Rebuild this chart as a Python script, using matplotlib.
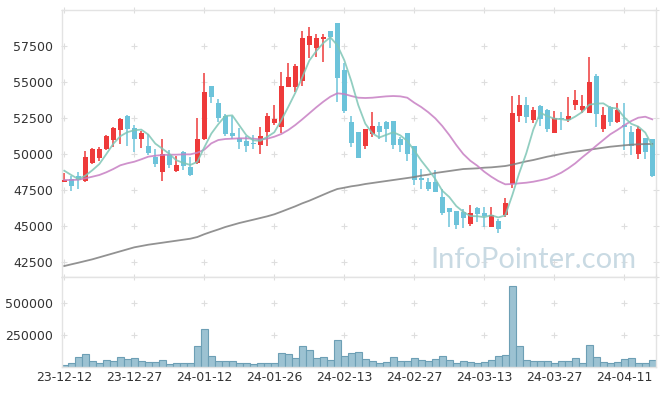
import matplotlib
matplotlib.use("Agg")
import matplotlib.pyplot as plt
import numpy as np

# ---------------- data ----------------
tick_labels = ['23-12-12', '23-12-27', '24-01-12', '24-01-26', '24-02-13',
               '24-02-27', '24-03-13', '24-03-27', '24-04-11']

opens = [48050, 48250, 48470, 48150, 49350, 49750, 50370, 50970, 51670, 52640,
         51780, 51020, 50560, 49810, 48730, 49950, 48840, 50120, 49080, 49350,
         51060, 54720, 53540, 52660, 51480, 51110, 50900, 50740, 50650, 51510,
         52170, 51900, 54670, 54670, 55090, 57590, 57380, 57990, 58540, 59100,
         55830, 52220, 51530, 50580, 51410, 51940, 52220, 52290, 51040, 51460,
         50560, 48350, 48060, 48060, 47010, 46270, 46040, 45970, 45160, 46250,
         45880, 44950, 45350, 45760, 47900, 52660, 53400, 52380, 53330, 53060,
         51480, 52500, 52380, 53380, 53060, 52850, 55440, 51740, 53240, 52240,
         52010, 51530, 49980, 51110, 51020]
highs = [48700, 48500, 48770, 50200, 50420, 50480, 51320, 51900, 52480, 52710,
         52000, 51600, 51400, 50330, 51020, 50270, 49880, 50230, 49810, 52500,
         55600, 54720, 53800, 52800, 52650, 51780, 51270, 51320, 51900, 52870,
         53400, 55670, 56300, 56230, 58560, 58800, 58310, 58330, 58540, 59100,
         56300, 52660, 51530, 51720, 52900, 52200, 52310, 52290, 51200, 51460,
         50560, 48940, 48330, 48870, 47590, 46270, 46040, 46180, 46440, 46320,
         46340, 46340, 45460, 46920, 54030, 54080, 53940, 53280, 53400, 53150,
         53000, 52920, 53940, 54420, 54080, 56760, 55560, 53290, 53330, 53520,
         53520, 51940, 51940, 51110, 51020]
lows = [48050, 47450, 47570, 48080, 49300, 49500, 50280, 50500, 50700, 50580,
        50120, 50400, 49930, 49120, 48150, 49000, 48770, 48890, 48490, 49280,
        51000, 53520, 52200, 51270, 51020, 50320, 50120, 50320, 49980, 50550,
        52010, 51480, 54650, 54290, 54740, 56650, 56760, 56410, 57340, 53590,
        52830, 50510, 49740, 50380, 51200, 51050, 50810, 50370, 50120, 49490,
        47850, 47590, 47450, 47380, 45760, 44950, 44810, 44840, 45000, 45300,
        44950, 44950, 44490, 45650, 47650, 52240, 52130, 52170, 51940, 51530,
        51480, 51670, 52200, 53060, 52830, 52830, 51900, 51530, 51940, 52170,
        50280, 49910, 49630, 49630, 48380]
closes = [48200, 47800, 48200, 49800, 50350, 50350, 51250, 51800, 52430, 51740,
          51040, 51460, 50090, 49290, 49980, 49260, 49215, 49190, 48560, 51040,
          54300, 53980, 52480, 51410, 51250, 50850, 50540, 50690, 51250, 52620,
          52430, 54720, 55350, 56110, 58050, 58190, 58050, 58120, 58130, 55300,
          52990, 50790, 49750, 51720, 51940, 51530, 51715, 50650, 50650, 49980,
          48200, 48220, 47570, 47380, 45900, 45990, 45090, 45580, 45900, 45840,
          45670, 45760, 44810, 46600, 52850, 53400, 52590, 53030, 52430, 51740,
          52480, 52420, 52620, 53750, 53330, 55000, 52800, 52710, 52240, 53060,
          51900, 50580, 51740, 50160, 48490]

ma_short = [48840, 48540, 48264, 48493, 48870, 49300, 49990, 50710, 51236, 51514,
            51652, 51694, 51352, 50724, 50372, 50016, 49567, 49387, 49241, 49453,
            50461, 51414, 52072, 52642, 52684, 51994, 51306, 50948, 50916, 51190,
            51506, 52342, 53274, 54246, 55332, 56484, 57150, 57704, 58108, 57558,
            56518, 55066, 53392, 52110, 51438, 51146, 51331, 51511, 51297, 50905,
            50239, 49540, 48924, 48270, 47454, 47012, 46386, 45988, 45692, 45680,
            45616, 45750, 45596, 45736, 47138, 48684, 50050, 51694, 52860, 52638,
            52454, 52420, 52338, 52602, 52920, 53424, 53500, 53518, 53216, 53162,
            52542, 52098, 51904, 51488, 50574]
ma_mid = [48195, 48195, 48215, 48313, 48424, 48542, 48730, 48958, 49215, 49354,
          49465, 49632, 49815, 49884, 49930, 49954, 49954, 49977, 49977, 50090,
          50300, 50740, 50972, 51042, 51065, 51090, 51090, 51065, 51020, 51065,
          51201, 51389, 51666, 52014, 52410, 52826, 53243, 53632, 53979, 54215,
          54166, 54027, 53910, 53889, 53910, 53958, 54004, 54027, 54004, 53910,
          53562, 53260, 52900, 52479, 51944, 51319, 50625, 50000, 49535, 49188,
          48771, 48424, 48125, 47896, 47917, 47965, 48007, 48076, 48174, 48285,
          48472, 48701, 49007, 49354, 49771, 50160, 50576, 50972, 51368, 51666,
          51993, 52291, 52521, 52590, 52410]
ma_long = [42222, 42340, 42451, 42569, 42687, 42826, 42965, 43104, 43243, 43382,
           43521, 43611, 43702, 43771, 43840, 43910, 43979, 44049, 44118, 44236,
           44430, 44600, 44760, 44931, 45069, 45208, 45324, 45438, 45556, 45674,
           45813, 45993, 46181, 46368, 46576, 46757, 46965, 47174, 47382, 47570,
           47660, 47757, 47826, 47917, 47986, 48056, 48125, 48194, 48264, 48333,
           48403, 48500, 48565, 48681, 48750, 48819, 48889, 48958, 48981, 49005,
           49051, 49074, 49120, 49167, 49259, 49375, 49491, 49583, 49699, 49815,
           49907, 50000, 50090, 50160, 50229, 50299, 50368, 50438, 50507, 50555,
           50604, 50646, 50674, 50694, 50694]

volumes = [17700, 28500, 74800, 98000, 46300, 28500, 54000, 46300, 74800, 61700,
           67000, 46300, 36000, 36000, 54000, 23000, 28500, 28500, 28500, 167000,
           298000, 82600, 46300, 46300, 46300, 28500, 28500, 23000, 28500, 28500,
           28500, 105700, 98000, 67000, 167000, 131000, 67000, 74800, 54000, 208000,
           82600, 105700, 113000, 61700, 46300, 28500, 36000, 74800, 46300, 46300,
           67000, 54000, 46300, 61700, 82600, 54000, 28500, 46300, 36000, 28500,
           36000, 54000, 82600, 92600, 632700, 160000, 54000, 46300, 46300, 46300,
           28500, 46300, 46300, 67000, 28500, 170000, 74800, 36000, 28500, 36000,
           61700, 67000, 28500, 28500, 54000]

price_ticks = [42500, 45000, 47500, 50000, 52500, 55000, 57500]
vol_ticks = [250000, 500000]

# ---------------- style ----------------
UP = '#ee3a3a'
DOWN = '#6cc3da'
GRID = '#dedede'
SPINE = '#e3e3e3'
TXT = '#333333'
plt.rcParams['font.family'] = ['DejaVu Sans']

W, H = 665, 396
fig = plt.figure(figsize=(W / 100, H / 100), dpi=100)
L, R = 61.7, 655.7
T1, B1 = 10, 277
B2 = 367
ax = fig.add_axes([L / W, 1 - B1 / H, (R - L) / W, (B1 - T1) / H])
axv = fig.add_axes([L / W, 1 - B2 / H, (R - L) / W, (B2 - B1) / H], sharex=ax)

n = len(closes)
x = np.arange(n)
o = np.array(opens); c = np.array(closes); h = np.array(highs); lo = np.array(lows)
up = c >= o
cols = np.where(up, UP, DOWN)

xlim = (-0.37, 84.49)
ylim = (41460, 60000)

fig.text(430 / W, 1 - 268 / H, 'InfoPointer.com', fontsize=21, family='Lato',
         color='#c9dae3', ha='left', va='baseline', zorder=0)

# grid crosses
gx = list(range(0, n, 10)) + [xlim[1]]
gy = price_ticks + [ylim[1]]
GX, GY = np.meshgrid(gx, gy)
ax.scatter(GX.ravel(), GY.ravel(), marker='+', s=14, c=GRID, linewidths=0.8, zorder=1, clip_on=False)

ax.vlines(x, lo, h, colors=cols, linewidth=1.1, zorder=2)
body_bottom = np.minimum(o, c)
body_h = np.maximum(np.abs(c - o), 40)
ax.bar(x, body_h, bottom=body_bottom, width=0.67, color=cols, linewidth=0, zorder=3)

ax.plot(x, ma_long, color='#7f7f7f', lw=1.3, alpha=0.85, zorder=4)
ax.plot(x, ma_mid, color='#c77fc3', lw=1.3, alpha=0.85, zorder=4)
ax.plot(x, ma_short, color='#7fc6b6', lw=1.3, alpha=0.85, zorder=4)

ax.set_xlim(*xlim)
ax.set_ylim(*ylim)
ax.set_yticks(price_ticks)
ax.set_yticklabels([str(v) for v in price_ticks])
ax.tick_params(axis='y', length=0, pad=6, labelsize=9, labelcolor=TXT)
ax.tick_params(axis='x', length=0, labelbottom=False)
ax.patch.set_alpha(0)
for s in ax.spines.values():
    s.set_color(SPINE)
    s.set_linewidth(1)

# volume
vgy = vol_ticks + [700000]
VX, VY = np.meshgrid(gx, vgy)
axv.scatter(VX.ravel(), VY.ravel(), marker='+', s=14, c=GRID, linewidths=0.8, zorder=1, clip_on=False)
axv.bar(x, volumes, width=0.96, color='#9cc2d2', edgecolor='#6d9fb5', linewidth=0.8, zorder=2)
axv.set_ylim(0, 700000)
axv.set_yticks(vol_ticks)
axv.set_yticklabels([str(v) for v in vol_ticks])
axv.set_xticks(list(range(0, n, 10)))
axv.set_xticklabels(tick_labels)
axv.tick_params(axis='both', length=0, labelsize=9, labelcolor=TXT)
axv.tick_params(axis='y', pad=6)
axv.tick_params(axis='x', pad=3)
for s in axv.spines.values():
    s.set_color(SPINE)
    s.set_linewidth(1)

fig.savefig('out.png', dpi=100)
